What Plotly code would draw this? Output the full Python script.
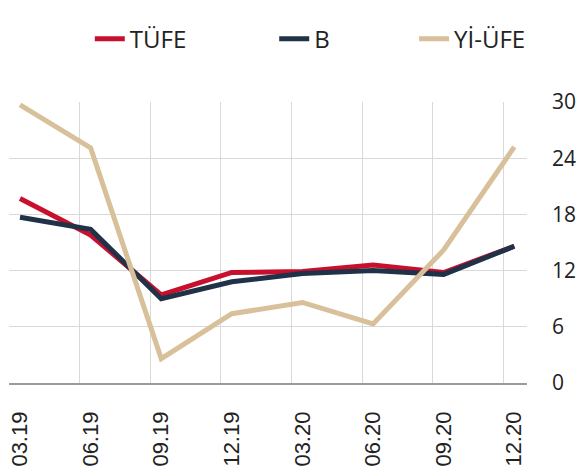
import plotly.graph_objects as go

periods = ["03.19", "06.19", "09.19", "12.19", "03.20", "06.20", "09.20", "12.20"]
tufe = [19.7, 15.8, 9.4, 11.8, 11.9, 12.6, 11.8, 14.6]
b_series = [17.7, 16.4, 9.0, 10.8, 11.7, 12.0, 11.6, 14.6]
yi_ufe = [29.7, 25.1, 2.6, 7.4, 8.6, 6.3, 14.2, 25.2]
y_ticks = [0, 6, 12, 18, 24, 30]

FONT = "Open Sans"
TEXT = "#222222"

x_idx = list(range(len(periods)))

series = [
    ("TÜFE", tufe, "#C8102E", "legend", 0.156),
    ("B", b_series, "#1F3247", "legend2", 0.512),
    ("Yİ-ÜFE", yi_ufe, "#D7C09A", "legend3", 0.782),
]

fig = go.Figure()
layout_legends = {}
for name, vals, color, leg, lx in series:
    fig.add_trace(go.Scatter(
        x=x_idx, y=vals, name=name, mode="lines",
        line=dict(color=color, width=5),
        legend=leg,
    ))
    layout_legends[leg] = dict(
        x=lx, y=1.224, xanchor="left", yanchor="middle",
        orientation="h", bgcolor="rgba(0,0,0,0)",
        font=dict(family=FONT, size=24, color=TEXT),
        itemwidth=30,
    )

fig.update_layout(
    width=579, height=470,
    margin=dict(l=9, r=52, t=102, b=87, autoexpand=False),
    paper_bgcolor="white", plot_bgcolor="white",
    showlegend=True,
    font=dict(family=FONT, size=20, color=TEXT),
    **layout_legends,
)

fig.update_xaxes(
    range=[-0.156, 7.18], automargin=False,
    tickmode="array", tickvals=x_idx, ticktext=periods,
    tickangle=-90,
    tickfont=dict(family="Liberation Sans", size=22, color=TEXT),
    showgrid=False,
    minor=dict(showgrid=True, gridcolor="#d9d9d9", gridwidth=1,
               tickmode="linear", tick0=-0.156, dtick=1),
    showline=True, linecolor="#9a9a9a", linewidth=1.5,
    zeroline=False, ticks="", ticklabelstandoff=18,
)

fig.update_yaxes(
    range=[0, 30], side="right", automargin=False,
    tickmode="array", tickvals=y_ticks,
    tickfont=dict(family=FONT, size=21, color=TEXT),
    showgrid=True, gridcolor="#d9d9d9", gridwidth=1,
    zeroline=False, ticks="", ticklabelstandoff=24,
)

# drop the default 8px page margin so the chart sits at the window's corner
fig.write_html("out.html", config={"displayModeBar": False},
               post_script="document.body.style.margin='0';")
